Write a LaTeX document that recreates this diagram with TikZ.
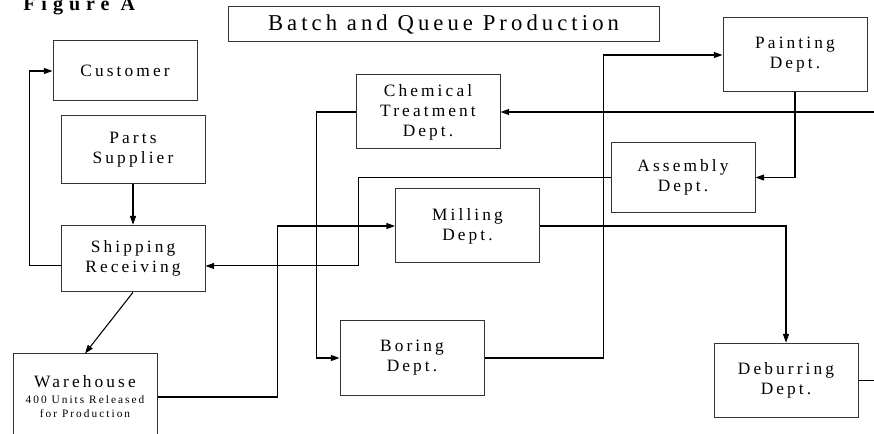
\documentclass[tikz,border=0pt]{standalone}
\usepackage{fontspec}
\setmainfont{Liberation Serif}
\newfontfamily\wide[LetterSpace=18]{Liberation Serif}
\newfontfamily\widebold[LetterSpace=30]{Liberation Serif}
\usetikzlibrary{arrows.meta}

\begin{document}
\begin{tikzpicture}[x=0.75pt,y=-0.75pt,
  every node/.style={font=\wide\fontsize{13}{15}\selectfont,align=center},
  dept/.style={draw=black!80,line width=0.75pt,minimum width=108pt,minimum height=55.5pt,inner sep=0pt},
  flow/.style={line width=0.8pt,-{Triangle[length=6.5pt,width=4.5pt]}},
  wire/.style={line width=0.8pt}]
  \useasboundingbox (0,0) rectangle (874,434);
  \node[anchor=base west,inner sep=0pt,font=\widebold\bfseries\fontsize{15}{17}\selectfont] (fig) at (23,11) {Figure A};
  \node[dept,minimum width=323.25pt,minimum height=26.25pt,font=\wide\fontsize{17}{19}\selectfont] (title) at (443.5,24.5) {Batch and Queue Production};
  \node[dept,minimum height=45pt] (cust) at (125,71) {Customer};
  \node[dept,minimum height=51pt] (parts) at (133,150) {Parts\\Supplier};
  \node[dept,minimum height=50pt] (ship) at (133,258.5) {Shipping\\Receiving};
  \node[dept,minimum height=64.5pt] (ware) at (85,397) {Warehouse\\[-3pt]{\fontsize{8.5}{10}\selectfont 400 Units Released}\\[-4.5pt]{\fontsize{8.5}{10}\selectfont for Production}};
  \node[dept] (chem) at (428,112) {Chemical\\Treatment\\Dept.};
  \node[dept] (paint) at (795,55) {Painting\\Dept.};
  \node[dept,minimum height=53pt] (assy) at (683,177.5) {Assembly\\Dept.};
  \node[dept] (mill) at (467.5,226) {Milling\\Dept.};
  \node[dept] (bore) at (412,358) {Boring\\Dept.};
  \node[dept,minimum height=56pt] (debur) at (786,380.5) {Deburring\\Dept.};
  \coordinate (chemin) at (874,112);
  \coordinate (debout) at (874,380.5);
  % flow of the batch
  \draw[flow] (parts.south) -- (ship.north);
  \draw[flow] ([yshift=-5.6pt]ship.west) -- ++(-31,0) |- (cust.west);
  \draw[flow] (ship.south) -- (ware.north);
  \draw[flow] (ware.east) -- ++(120,0) |- (mill.west);
  \draw[flow] (mill.east) -| (debur.north);
  \draw[wire] (debur.east) -- (debout);
  \draw[flow] (chemin) -- (chem.east);
  \draw[flow] (chem.west) -- ++(-39,0) |- (bore.west);
  \draw[flow] (bore.east) -- ++(119,0) |- (paint.west);
  \draw[flow] (paint.south) |- (assy.east);
  \draw[flow] (assy.west) -- ++(-252,0) |- ([yshift=-5.6pt]ship.east);
\end{tikzpicture}
\end{document}
